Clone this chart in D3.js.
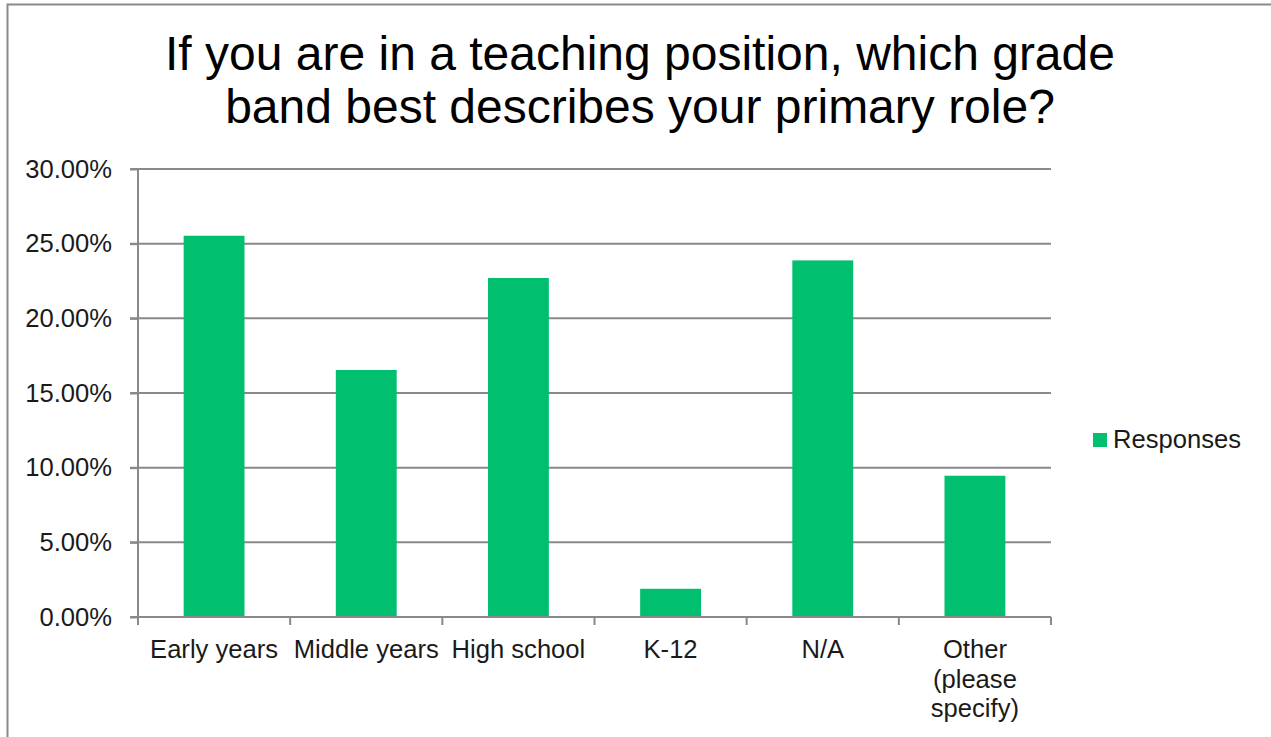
<!DOCTYPE html>
<html>
<head>
<meta charset="utf-8">
<script src="https://cdn.jsdelivr.net/npm/d3@7"></script>
<style>
  html, body { margin: 0; padding: 0; background: #fff; }
  svg { display: block; }
  text { font-family: "Liberation Sans", Arial, sans-serif; }
</style>
</head>
<body>
<script>
const categories = ["Early years", "Middle years", "High school", "K-12", "N/A", "Other (please specify)"];
const responses = [25.53, 16.54, 22.70, 1.89, 23.88, 9.46];
const yTicks = [0, 5, 10, 15, 20, 25, 30];
const titleLines = ["If you are in a teaching position, which grade", "band best describes your primary role?"];
const seriesName = "Responses";

(function() {
const W = 1271, H = 737;
const svg = d3.select("body").append("svg").attr("width", W).attr("height", H);

// outer border
svg.append("rect").attr("x", 7.5).attr("y", 4.5).attr("width", W + 10).attr("height", H + 10)
  .attr("fill", "none").attr("stroke", "#898989").attr("stroke-width", 2);

// title
svg.append("text").attr("x", 640).attr("y", 70).attr("text-anchor", "middle")
  .attr("font-size", 48).attr("fill", "#000")
  .selectAll("tspan").data(titleLines).join("tspan")
  .attr("x", 640).attr("dy", (d, i) => i === 0 ? 0 : 53).text(d => d);

const pl = 138, pr = 1051, pt = 169, pb = 617;
const x = d3.scaleBand().domain(categories).range([pl, pr]).paddingInner(0.6).paddingOuter(0.3);
const y = d3.scaleLinear().domain([0, 30]).range([pb, pt]);

// gridlines
svg.append("g").selectAll("line").data(yTicks.filter(d => d > 0)).join("line")
  .attr("x1", pl - 8).attr("x2", pr).attr("y1", d => y(d)).attr("y2", d => y(d))
  .attr("stroke", "#898989").attr("stroke-width", 2);

// bars
svg.append("g").selectAll("rect").data(categories).join("rect")
  .attr("x", d => x(d)).attr("width", x.bandwidth())
  .attr("y", (d, i) => y(responses[i])).attr("height", (d, i) => y(0) - y(responses[i]))
  .attr("fill", "#00BF6F");

// y axis
const yAxis = svg.append("g").attr("transform", `translate(${pl},0)`)
  .call(d3.axisLeft(y).tickValues(yTicks).tickSize(8).tickPadding(18).tickFormat(d => d.toFixed(2) + "%"));
yAxis.select(".domain").attr("stroke", "#898989").attr("stroke-width", 2).attr("d", `M0,${pt}V${pb}`);
yAxis.selectAll(".tick line").attr("stroke", "#898989").attr("stroke-width", 2);
yAxis.selectAll(".tick text").attr("font-size", 25.6).attr("fill", "#1a1a1a")
  .attr("font-family", "Liberation Sans, Arial, sans-serif");

// x axis baseline and ticks at category boundaries
const step = x.step();
const boundaries = d3.range(categories.length + 1).map(i => pl + i * step);
svg.append("line").attr("x1", pl - 8).attr("x2", pr).attr("y1", pb).attr("y2", pb)
  .attr("stroke", "#898989").attr("stroke-width", 2);
svg.append("g").selectAll("line").data(boundaries).join("line")
  .attr("x1", d => d).attr("x2", d => d).attr("y1", pb).attr("y2", pb + 8)
  .attr("stroke", "#898989").attr("stroke-width", 2);

// category labels (wrapped like the original)
const wrapped = {"Other (please specify)": ["Other", "(please", "specify)"]};
svg.append("g").selectAll("text").data(categories).join("text")
  .attr("text-anchor", "middle").attr("font-size", 25.6).attr("fill", "#1a1a1a")
  .attr("y", 658)
  .each(function(d) {
    const lines = wrapped[d] || [d];
    const cx = x(d) + x.bandwidth() / 2;
    d3.select(this).selectAll("tspan").data(lines).join("tspan")
      .attr("x", cx).attr("dy", (l, i) => i === 0 ? 0 : 29.5).text(l => l);
  });

// legend
svg.append("rect").attr("x", 1093).attr("y", 433).attr("width", 14).attr("height", 14).attr("fill", "#00BF6F");
svg.append("text").attr("x", 1113).attr("y", 448).attr("font-size", 25.6).attr("fill", "#1a1a1a").text(seriesName);
})();
</script>
</body>
</html>
